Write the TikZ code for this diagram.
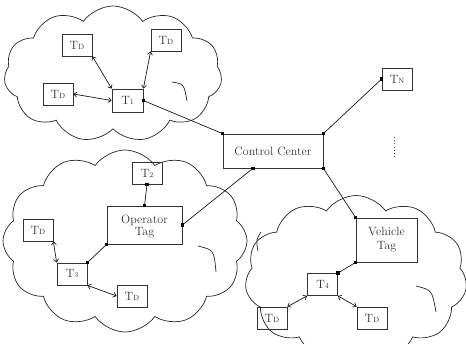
\documentclass[tikz,border=0pt]{standalone}
\usetikzlibrary{shapes.symbols,arrows.meta,calc}
\begin{document}
\begin{tikzpicture}[x=1pt,y=-1pt,
  every node/.style={font=\fontsize{12}{14}\selectfont, text=black!80},
  cloudshape/.style={cloud, draw=black!85, line width=0.7pt, cloud puffs=#1, cloud puff arc=110, inner sep=0pt},
  inarc/.style={draw=black!85, line width=0.7pt},
  box/.style={draw=black!80, line width=0.7pt, minimum width=30pt, minimum height=22pt, inner sep=0pt},
  bigbox/.style={draw=black!80, line width=0.7pt, inner sep=0pt},
  sq/.style={fill=black, rectangle, minimum size=3.4pt, inner sep=0pt},
  link/.style={draw=black!90, line width=0.7pt},
  dbl/.style={draw=black!90, line width=0.7pt, {Straight Barb[length=3pt,width=5pt]}-{Straight Barb[length=3pt,width=5pt]}}
]
\useasboundingbox (0,0) rectangle (466,343);
\clip (0,0) rectangle (466,343);
\newcommand{\tsub}[1]{T{\fontsize{7.5}{7.5}\selectfont #1}}
% clouds
\node[cloudshape=11, minimum width=218pt, minimum height=136pt] (cloudA) at (113,74) {};
\node[cloudshape=12, minimum width=244pt, minimum height=182pt] (cloudB) at (125,241) {};
\node[cloudshape=11, minimum width=222pt, minimum height=165pt] (cloudC) at (356,278) {};
% inner arcs of the clouds
\draw[inarc] (172,82) .. controls (184,84) .. (187,101);
\draw[inarc] (198,246) .. controls (214,250) .. (216,272);
\draw[inarc] (416,286) .. controls (432,290) .. (436,312);
\draw[inarc] (258,251) .. controls (256,240) .. (261,232);
% top cluster
\node[box] (tda) at (77,45) {\tsub{D}};
\node[box] (tdb) at (166,40) {\tsub{D}};
\node[box] (tdc) at (58,94) {\tsub{D}};
\node[box, minimum width=31pt, minimum height=23pt] (t1) at (127.5,100.5) {\tsub{1}};
% control center
\node[bigbox, minimum width=100pt, minimum height=34pt] (cc) at (273,151) {Control Center};
\node[box] (tn) at (397,79) {\tsub{N}};
\coordinate (vdA) at (394,137);
\coordinate (vdB) at (394,157);
\draw[black!70, line width=0.8pt, dash pattern=on 0.8pt off 2.4pt] (vdA) -- (vdB);
% operator cluster
\node[box] (t2) at (147,173) {\tsub{2}};
\node[bigbox, minimum width=75pt, minimum height=38pt] (op) at (144.5,225) {};
\node (optext) at (144.5,227) {\begin{tabular}{@{}c@{}}Operator\\[-2pt]Tag\end{tabular}};
\node[box] (td3a) at (38,230) {\tsub{D}};
\node[box] (t3) at (72,274) {\tsub{3}};
\node[box] (td3b) at (132,296) {\tsub{D}};
% vehicle cluster
\node[bigbox, minimum width=61pt, minimum height=44pt, align=center] (veh) at (386.5,240) {Vehicle\\Tag};
\node[box] (t4) at (322.5,284.5) {\tsub{4}};
\node[box] (td4a) at (272,318) {\tsub{D}};
\node[box] (td4b) at (372,318) {\tsub{D}};
% square markers
\node[sq] (s1) at (t1.east) {};
\node[sq] (s2) at (cc.north west) {};
\node[sq] (s3) at (cc.north east) {};
\node[sq] (s4) at (tn.west) {};
\node[sq] (s5) at ($(cc.south west)!0.3!(cc.south east)$) {};
\node[sq] (s6) at (cc.south east) {};
\node[sq] (s7) at (op.east) {};
\node[sq] (s8) at (op.north) {};
\node[sq] (s9) at (t2.south) {};
\node[sq] (s10) at (op.south west) {};
\node[sq] (s11) at (t3.north east) {};
\node[sq] (s12) at (veh.north west) {};
\node[sq] (s13) at (veh.south west) {};
\node[sq] (s14) at (t4.north east) {};
% links
\draw[link] (s1.center) -- (s2.center);
\draw[link] (s3.center) -- (s4.center);
\draw[link] (s5.center) -- (s7.center);
\draw[link] (s6.center) -- (s12.center);
\draw[link] (s9.center) -- (s8.center);
\draw[link] (s10.center) -- (s11.center);
\draw[link] (s13.center) -- (s14.center);
% double arrows
\draw[dbl] (tda.south east) -- (t1.north west);
\draw[dbl] (tdb.south west) -- (t1.north east);
\draw[dbl] (tdc.east) -- (t1.west);
\draw[dbl] (td3a.south east) -- (t3.north west);
\draw[dbl] (t3.south east) -- (td3b.west);
\draw[dbl] (t4.south west) -- (td4a.north east);
\draw[dbl] (t4.south east) -- (td4b.north west);
\end{tikzpicture}
\end{document}
